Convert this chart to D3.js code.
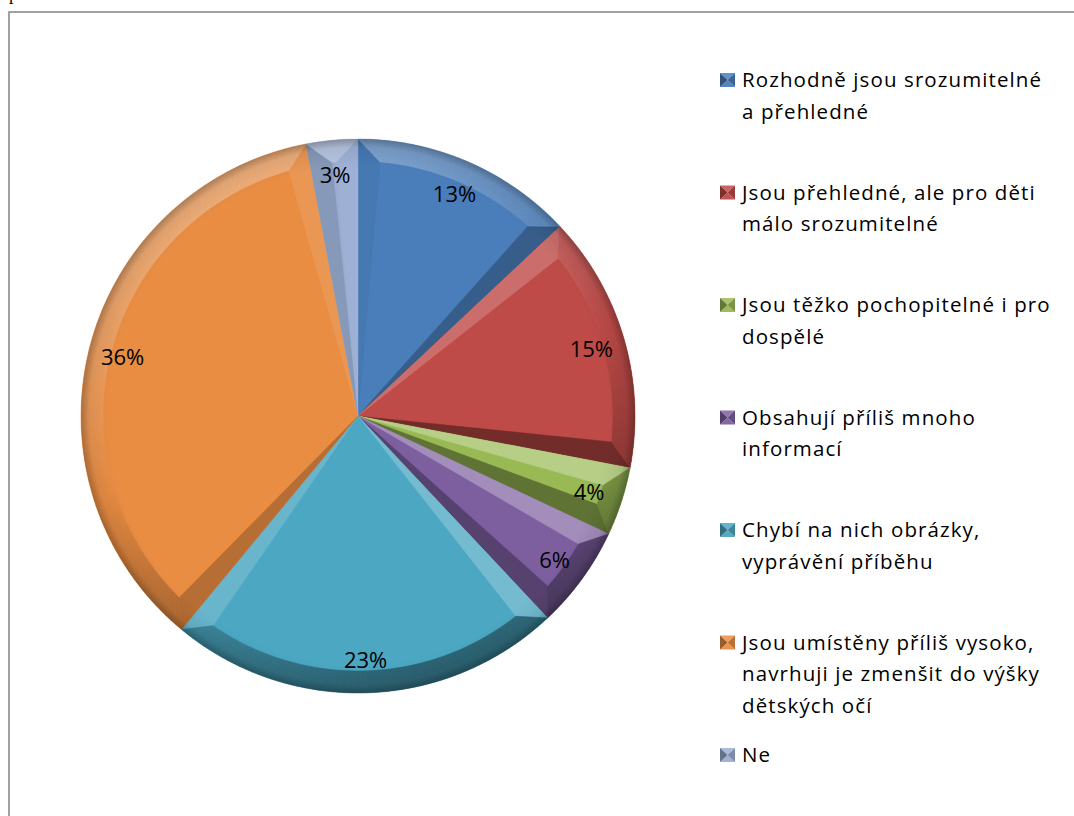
<!DOCTYPE html>
<html>
<head>
<meta charset="utf-8">
<script src="https://cdn.jsdelivr.net/npm/d3@7"></script>
<style>
  html, body { margin: 0; padding: 0; background: #fff; }
  svg { display: block; }
</style>
</head>
<body>
<svg id="chart" width="1074" height="816"></svg>
<script>
// ---- data ----
const categories = [
  "Rozhodně jsou srozumitelné\na přehledné",
  "Jsou přehledné, ale pro děti\nmálo srozumitelné",
  "Jsou těžko pochopitelné i pro\ndospělé",
  "Obsahují příliš mnoho\ninformací",
  "Chybí na nich obrázky,\nvyprávění příběhu",
  "Jsou umístěny příliš vysoko,\nnavrhuji je zmenšit do výšky\ndětských očí",
  "Ne"
];
const values = [13, 15, 4, 6, 23, 36, 3];
const valueLabels = ["13%", "15%", "4%", "6%", "23%", "36%", "3%"];
const colors = ["#4A7EBB", "#BE4B48", "#98B954", "#7D5FA0", "#4BA7C2", "#E98D43", "#9AAED3"];

// ---- layout ----
const svg = d3.select("#chart");
const cx = 358, cy = 416, R = 277, D = 22;
const norm = (x, y) => { const l = Math.hypot(x, y); return [x / l, y / l]; };
const lightSide = norm(0.12, -1);
const lightRim = norm(-0.35, -1);

// frame + stray glyph from page
svg.append("text").attr("x", 9).attr("y", 0).attr("font-family", "Liberation Serif")
  .attr("font-size", 18).attr("fill", "#000").text("p");
svg.append("rect").attr("x", 9).attr("y", 12).attr("width", 1100).attr("height", 900)
  .attr("fill", "none").attr("stroke", "#8a8a8a").attr("stroke-width", 1.6);

const pie = d3.pie().sort(null).value(d => d);
const arcs = pie(values);
const arcGen = d3.arc().innerRadius(0).outerRadius(R);

const pt = (a, r) => [cx + r * Math.sin(a), cy - r * Math.cos(a)];
function shade(base, n, L) {
  const b = n[0] * L[0] + n[1] * L[1];
  return b > 0 ? d3.interpolateRgb(base, "#ffffff")(b * 0.3)
               : d3.interpolateRgb(base, "#000000")(-b * 0.4);
}
const line = d3.line();

const g = svg.append("g");
arcs.forEach((s, i) => {
  const base = colors[i];
  const a0 = s.startAngle, a1 = s.endAngle;
  const h = (a1 - a0) / 2;
  const sg = g.append("g");
  sg.append("path").attr("transform", `translate(${cx},${cy})`).attr("d", arcGen(s)).attr("fill", base);

  const dlt = Math.min(Math.asin(D / (R - D)), h * 0.96);
  const ia0 = a0 + dlt, ia1 = a1 - dlt, rin = R - D;
  const cS = pt(ia0, rin), cE = pt(ia1, rin);
  const C = [cx, cy];
  const nS = [-Math.cos(a0), -Math.sin(a0)];
  const nE = [Math.cos(a1), Math.sin(a1)];
  const colS = shade(base, nS, lightSide), colE = shade(base, nE, lightSide);
  sg.append("path").attr("d", line([C, pt(a0, R), cS]) + "Z")
    .attr("fill", colS).attr("stroke", colS).attr("stroke-width", 0.4);
  sg.append("path").attr("d", line([C, pt(a1, R), cE]) + "Z")
    .attr("fill", colE).attr("stroke", colE).attr("stroke-width", 0.4);
  const N = Math.max(3, Math.ceil((a1 - a0) / 0.025));
  for (let k = 0; k < N; k++) {
    const o0 = a0 + (a1 - a0) * k / N, o1 = a0 + (a1 - a0) * (k + 1) / N;
    const i0 = ia0 + (ia1 - ia0) * k / N, i1 = ia0 + (ia1 - ia0) * (k + 1) / N;
    const am = (o0 + o1) / 2;
    const col = shade(base, [Math.sin(am), -Math.cos(am)], lightRim);
    sg.append("path").attr("d", line([pt(o0, R), pt(o1, R), pt(i1, rin), pt(i0, rin)]) + "Z")
      .attr("fill", col).attr("stroke", col).attr("stroke-width", 0.6);
  }
});

// rim darkening for a rounded look
const defs = svg.append("defs");
const rg = defs.append("radialGradient").attr("id", "rim").attr("gradientUnits", "userSpaceOnUse")
  .attr("cx", cx).attr("cy", cy).attr("r", R);
rg.append("stop").attr("offset", 0.9).attr("stop-color", "#000").attr("stop-opacity", 0);
rg.append("stop").attr("offset", 0.97).attr("stop-color", "#000").attr("stop-opacity", 0.07);
rg.append("stop").attr("offset", 1).attr("stop-color", "#000").attr("stop-opacity", 0.28);
g.append("circle").attr("cx", cx).attr("cy", cy).attr("r", R).attr("fill", "url(#rim)");

// value labels
const labelR = R - 34;
svg.append("g").selectAll("text").data(arcs).join("text")
  .attr("x", d => pt((d.startAngle + d.endAngle) / 2, labelR)[0])
  .attr("y", d => pt((d.startAngle + d.endAngle) / 2, labelR)[1])
  .attr("text-anchor", "middle").attr("dominant-baseline", "central")
  .attr("font-family", "Open Sans").attr("font-size", 22).attr("fill", "#000")
  .text((d, i) => valueLabels[i]);

// legend
const legendY = d3.scaleLinear().domain([0, categories.length - 1]).range([87, 762]);
const lg = svg.append("g");
categories.forEach((c, i) => {
  const y = legendY(i);
  const base = colors[i];
  const x0 = 720, w = 15, hgt = 14, top = y - 14;
  const mx = x0 + w / 2, my = top + hgt / 2;
  const tri = [
    [[x0, top], [x0 + w, top], [mx, my], d3.interpolateRgb(base, "#fff")(0.15)],
    [[x0, top + hgt], [x0 + w, top + hgt], [mx, my], d3.interpolateRgb(base, "#fff")(0.05)],
    [[x0, top], [x0, top + hgt], [mx, my], d3.interpolateRgb(base, "#000")(0.35)],
    [[x0 + w, top], [x0 + w, top + hgt], [mx, my], d3.interpolateRgb(base, "#000")(0.2)]
  ];
  tri.forEach(t => lg.append("path").attr("d", line([t[0], t[1], t[2]]) + "Z").attr("fill", t[3]));
  const t = lg.append("text").attr("x", 742).attr("y", y)
    .attr("font-family", "Open Sans").attr("font-size", 20.5).attr("letter-spacing", 1.1).attr("fill", "#000");
  c.split("\n").forEach((ln, j) => {
    t.append("tspan").attr("x", 742).attr("y", y + j * 31.5).text(ln);
  });
});
</script>
</body>
</html>
